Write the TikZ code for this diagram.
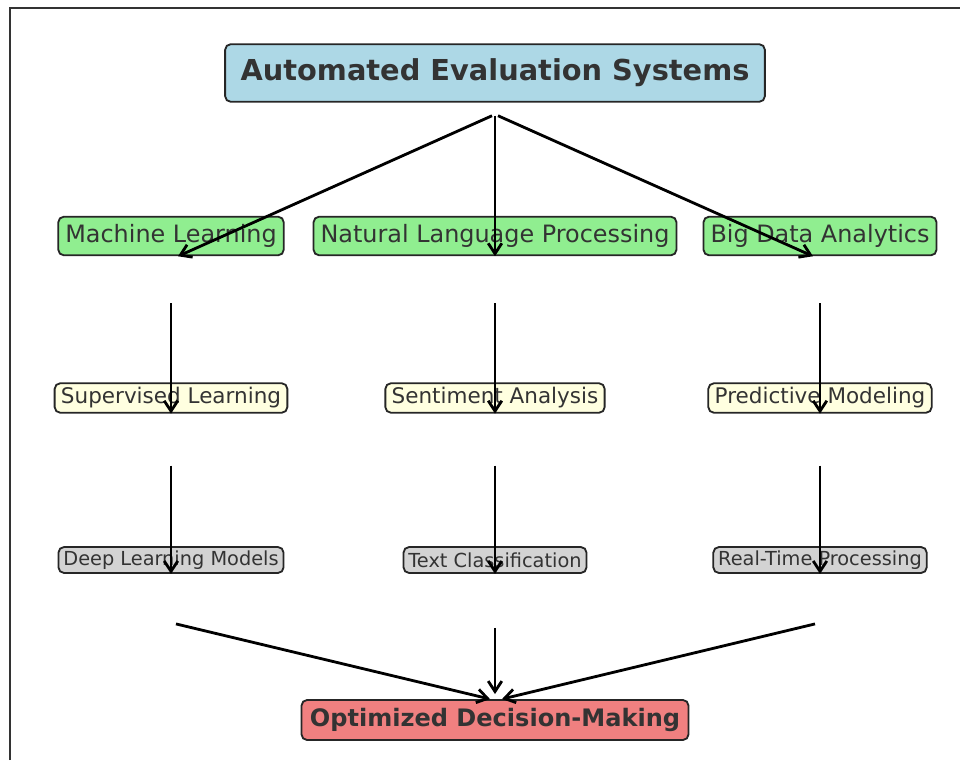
\documentclass[tikz,border=0pt]{standalone}
\usepackage{fontspec}
\setmainfont{DejaVu Sans}
\usetikzlibrary{arrows.meta,positioning,calc}
\definecolor{inkdark}{HTML}{333333}
\definecolor{edgedark}{HTML}{262626}
\definecolor{skyfill}{HTML}{ADD8E6}
\definecolor{leaffill}{HTML}{90EE90}
\definecolor{creamfill}{HTML}{FFFFE0}
\definecolor{greyfill}{HTML}{D3D3D3}
\definecolor{coralfill}{HTML}{F08080}
\tikzset{
  basebox/.style  = {rounded corners=4pt, draw=edgedark, line width=1.3pt,
                     text=inkdark, align=center, inner ysep=0pt},
  titlebox/.style = {basebox, fill=skyfill, inner xsep=11pt, minimum height=41pt,
                     font=\fontsize{20.5}{24}\selectfont\bfseries},
  fieldbox/.style = {basebox, fill=leaffill, inner xsep=5pt, minimum height=27.5pt,
                     font=\fontsize{17}{20}\selectfont},
  methodbox/.style= {basebox, fill=creamfill, inner xsep=4.5pt, minimum height=21pt,
                     font=\fontsize{15.3}{18}\selectfont},
  techbox/.style  = {basebox, fill=greyfill, inner xsep=3.5pt, minimum height=18.5pt,
                     font=\fontsize{13.75}{16}\selectfont},
  goalbox/.style  = {basebox, fill=coralfill, inner xsep=6pt, minimum height=28.5pt,
                     font=\fontsize{17.1}{20}\selectfont\bfseries},
  flow/.style     = {-{Straight Barb[length=2.6mm,width=3.4mm]}, draw=black, line width=2pt},
}
\begin{document}
\begin{tikzpicture}
    \useasboundingbox (0,0) rectangle (24,-19);
    \draw[draw=inkdark, line width=1.3pt] (0.24,-19) -- (0.24,-0.2) -- (24,-0.2);

    % top and bottom
    \node[titlebox] (aes) at (12.375,-1.825) {Automated Evaluation Systems};
    \node[goalbox] (odm) at (12.375,-18.0) {Optimized Decision-Making};

    % three columns
    \node[fieldbox] (ml) at (4.275,-5.9) {Machine Learning};
    \node[fieldbox] (nlp) at (12.375,-5.9) {Natural Language Processing};
    \node[fieldbox] (bda) at (20.5,-5.9) {Big Data Analytics};

    \node[methodbox] (sl) at (4.275,-9.95) {Supervised Learning};
    \node[methodbox] (sa) at (12.375,-9.95) {Sentiment Analysis};
    \node[methodbox] (pm) at (20.5,-9.95) {Predictive Modeling};

    \node[techbox] (dlm) at (4.275,-14.0) {Deep Learning Models};
    \node[techbox] (tc) at (12.375,-14.0) {Text Classification};
    \node[techbox] (rtp) at (20.5,-14.0) {Real-Time Processing};

    % free starts of the arrows
    \coordinate (aesOut) at ([yshift=-0.325cm]aes.south);
    \coordinate (mlOut) at ([yshift=-1.175cm]ml.south);
    \coordinate (nlpOut) at ([yshift=-1.175cm]nlp.south);
    \coordinate (bdaOut) at ([yshift=-1.175cm]bda.south);
    \coordinate (slOut) at ([yshift=-1.3cm]sl.south);
    \coordinate (saOut) at ([yshift=-1.3cm]sa.south);
    \coordinate (pmOut) at ([yshift=-1.3cm]pm.south);
    \coordinate (dlmOut) at ([xshift=0.125cm,yshift=-1.25cm]dlm.south);
    \coordinate (tcOut) at ([yshift=-1.35cm]tc.south);
    \coordinate (rtpOut) at ([xshift=-0.125cm,yshift=-1.25cm]rtp.south);

    \draw[flow] ([xshift=-0.075cm]aesOut) -- ([xshift=0.175cm]ml.south);
    \draw[flow] (aesOut) -- (nlp.south);
    \draw[flow] ([xshift=0.075cm]aesOut) -- ([xshift=-0.175cm]bda.south);

    \draw[flow] (mlOut) -- (sl.south);
    \draw[flow] (nlpOut) -- (sa.south);
    \draw[flow] (bdaOut) -- (pm.south);

    \draw[flow] (slOut) -- (dlm.south);
    \draw[flow] (saOut) -- (tc.south);
    \draw[flow] (pmOut) -- (rtp.south);

    \draw[flow] (dlmOut) -- ([xshift=-0.125cm]odm.north);
    \draw[flow] (tcOut) -- ([yshift=0.125cm]odm.north);
    \draw[flow] (rtpOut) -- ([xshift=0.175cm]odm.north);
  \end{tikzpicture}
\end{document}
